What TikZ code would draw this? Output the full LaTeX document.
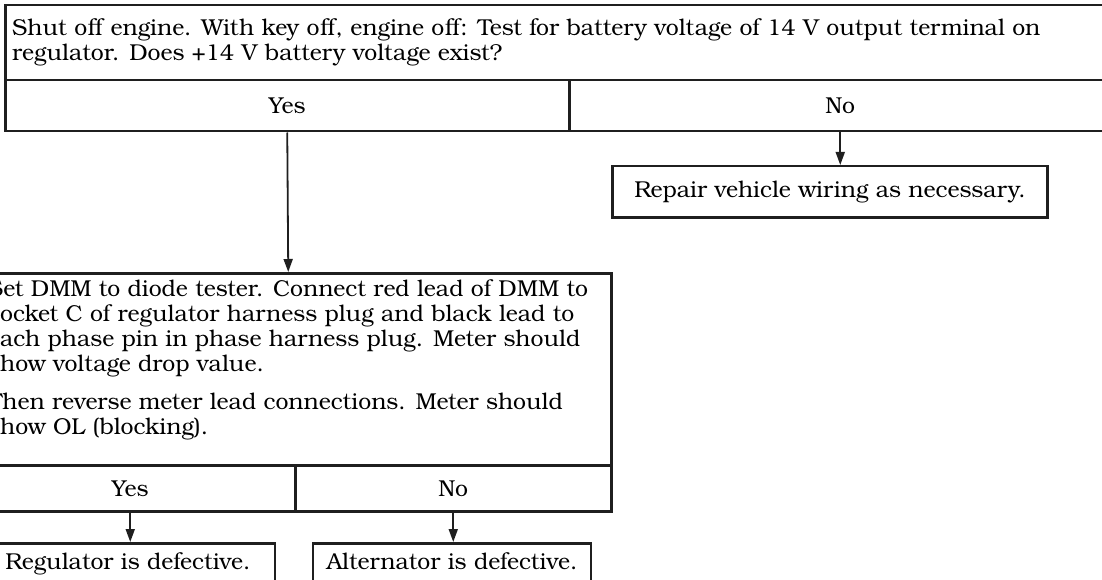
\documentclass[tikz,border=0pt]{standalone}
\usepackage{fontspec}
\setmainfont{texgyrebonum}[Extension=.otf,UprightFont=*-regular,BoldFont=*-bold,ItalicFont=*-italic,BoldItalicFont=*-bolditalic]
\usetikzlibrary{arrows.meta}
\newcommand\tf{\fontsize{23}{25}\selectfont}
\begin{document}
\begin{tikzpicture}[x=1pt,y=-1pt,
  ln/.style={draw=black!88,line width=2.5pt},
  cell/.style={ln, inner sep=0pt, anchor=north west},
  lab/.style={font=\tf, text height=16pt, text depth=0pt},
  leaf/.style={ln, font=\tf, text height=16pt, text depth=5pt, inner xsep=0pt, anchor=north},
  arr/.style={draw=black!88, line width=1.8pt, -{Triangle[length=13pt,width=9pt]}},
  para/.style={inner sep=0pt, anchor=base west, font=\tf}]
\useasboundingbox (0,0) rectangle (1102,580);
\clip (0,0) rectangle (1102,580);
% first question
\node[cell, minimum width=1106pt, minimum height=75pt] (q1) at (4,4) {};
\node[cell, lab, minimum width=564pt, minimum height=51pt] (q1y) at (4,79) {Yes};
\node[cell, lab, minimum width=542pt, minimum height=51pt] (q1n) at (568,79) {No};
\node[para] (q1t) at (12,36) {\vtop{\tf\hsize=1100pt\parindent=0pt\raggedright
  Shut off engine. With key off, engine off: Test for battery voltage of 14 V output terminal on\\
  regulator. Does +14 V battery voltage exist?}};
% repair
\node[leaf, inner ysep=15pt, minimum width=435pt] (r1) at (830,165) {Repair vehicle wiring as necessary.};
% second question
\node[cell, minimum width=646pt, minimum height=192pt] (q2) at (-36,272) {};
\node[cell, lab, minimum width=330pt, minimum height=46pt] (q2y) at (-36,464) {Yes};
\node[cell, lab, minimum width=316pt, minimum height=46pt] (q2n) at (294,464) {No};
\node[para] (q2t) at (-12,296) {\vtop{\tf\hsize=800pt\parindent=0pt\raggedright
  Set DMM to diode tester. Connect red lead of DMM to\\
  socket C of regulator harness plug and black lead to\\
  each phase pin in phase harness plug. Meter should\\
  show voltage drop value.\par\vskip13pt
  Then reverse meter lead connections. Meter should\\
  show OL (blocking).}};
% leaves
\node[leaf, inner ysep=10pt, minimum width=294pt] (reg) at (128,542) {Regulator is defective.};
\node[leaf, inner ysep=10pt, minimum width=278pt] (alt) at (452,542) {Alternator is defective.};
% connectors
\draw[arr] (q1y.south) -- (q2.north);
\draw[arr] (q1n.south) -- (q1n.south |- r1.north);
\draw[arr] (q2y.south) -- (q2y.south |- reg.north);
\draw[arr] (q2n.south) -- (q2n.south |- alt.north);
\end{tikzpicture}
\end{document}
